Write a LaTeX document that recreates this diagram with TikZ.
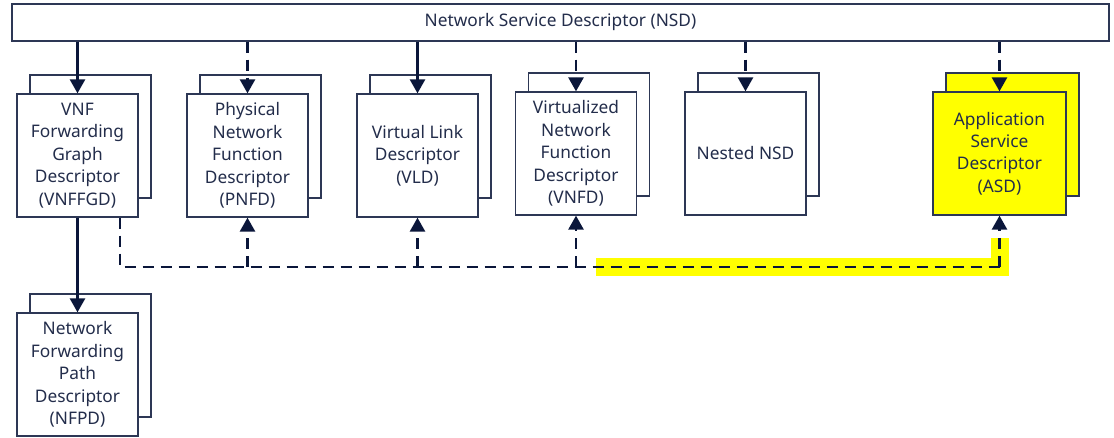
\documentclass[tikz,border=0pt]{standalone}
\usepackage{fontspec}
\setmainfont{Noto Sans}
\usetikzlibrary{arrows.meta}
\definecolor{lineC}{RGB}{10,22,58}
\definecolor{boxC}{RGB}{45,55,85}
\definecolor{textC}{RGB}{35,45,75}
\definecolor{hiY}{RGB}{255,255,0}
\tikzset{
  frontbox/.style={draw=boxC, line width=1.3pt, fill=white, minimum width=121pt, minimum height=123pt,
    inner sep=0pt, align=center, text=textC, font=\fontsize{17.3}{22.4}\selectfont},
  lower/.style={execute at begin node={\vspace*{4pt}}},
  backbox/.style={draw=boxC, line width=1.3pt, fill=white, minimum width=121pt, minimum height=123pt, inner sep=0pt},
  solidarrow/.style={draw=lineC, line width=2.6pt, -{Triangle[length=14pt,width=15pt]}},
  dasharrow/.style={draw=lineC, line width=2.6pt, dash pattern=on 11pt off 7pt, -{Triangle[length=14pt,width=15pt]}},
  dashline/.style={draw=lineC, line width=2.6pt, dash pattern=on 11pt off 7pt},
}
\begin{document}
\begin{tikzpicture}[x=1pt,y=-1pt]
\useasboundingbox (0,0) rectangle (1114,438);
% top bar
\node[draw=boxC, line width=1.3pt, fill=white, minimum width=1097pt, minimum height=37pt, inner sep=0pt,
  text=textC, font=\fontsize{17.3}{22.4}\selectfont] (nsd) at (560.5,22.5) {\raisebox{-2pt}{Network Service Descriptor (NSD)}};
% back boxes
\node[backbox] (vnffgdB) at (90.5,136.5) {};
\node[backbox] (pnfdB) at (260.5,136.5) {};
\node[backbox] (vldB) at (430.5,136.5) {};
\node[backbox] (vnfdB) at (589,134.5) {};
\node[backbox] (nestedB) at (758.5,134.5) {};
\node[backbox, fill=hiY, minimum width=133pt] (asdB) at (1012.5,134.5) {};
\node[backbox] (nfpdB) at (90.5,355.5) {};
% front boxes
\node[frontbox, lower] (vnffgd) at (77.5,155.5) {VNF\\Forwarding\\Graph\\Descriptor\\(VNFFGD)};
\node[frontbox, lower] (pnfd) at (247.5,155.5) {Physical\\Network\\Function\\Descriptor\\(PNFD)};
\node[frontbox, lower] (vld) at (417.5,155.5) {Virtual Link\\Descriptor\\(VLD)};
\node[frontbox, lower] (vnfd) at (576,153.5) {Virtualized\\Network\\Function\\Descriptor\\(VNFD)};
\node[frontbox] (nested) at (745.5,153.5) {Nested NSD};
\node[frontbox, lower, fill=hiY, minimum width=133pt] (asd) at (999.5,153.5) {Application\\Service\\Descriptor\\(ASD)};
\node[frontbox, lower] (nfpd) at (77.5,374.5) {Network\\Forwarding\\Path\\Descriptor\\(NFPD)};
% yellow highlight band
\draw[hiY, line width=18pt, line join=miter] (596,267.5) -- (999.5,267.5) -- (999.5,238);
% arrows from NSD
\draw[solidarrow] (vnffgd.north |- nsd.south) -- (vnffgd.north);
\draw[dasharrow] (pnfd.north |- nsd.south) -- (pnfd.north);
\draw[solidarrow] (vld.north |- nsd.south) -- (vld.north);
\draw[dasharrow] (vnfd.north |- nsd.south) -- (vnfd.north);
\draw[dasharrow] (nested.north |- nsd.south) -- (nested.north);
\draw[dasharrow] (asd.north |- nsd.south) -- (asd.north);
% VNFFGD to NFPD
\draw[solidarrow] (vnffgd.south) -- (nfpd.north);
% dashed bus
\coordinate (busL) at (120,267);
\draw[dashline] (vnffgd.south -| busL) -- (busL) -- (asd.south |- busL);
\draw[dasharrow] (asd.south |- busL) -- (asd.south);
\draw[dasharrow] (pnfd.south |- busL) -- (pnfd.south);
\draw[dasharrow] (vld.south |- busL) -- (vld.south);
\draw[dasharrow] (vnfd.south |- busL) -- (vnfd.south);
\end{tikzpicture}
\end{document}
